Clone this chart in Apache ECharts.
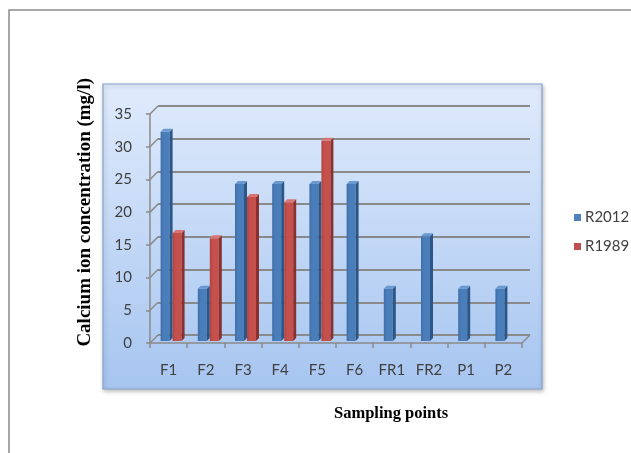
<!DOCTYPE html>
<html>
<head>
<meta charset="utf-8">
<script src="https://cdn.jsdelivr.net/npm/echarts@6/dist/echarts.min.js"></script>
<style>
html,body{margin:0;padding:0;background:#fff;}
#c{width:631px;height:453px;}
</style>
</head>
<body>
<div id="c"></div>
<script>
const categories = ['F1','F2','F3','F4','F5','F6','FR1','FR2','P1','P2'];
const r2012 = [32, 8, 24, 24, 24, 24, 8, 16, 8, 8];
const r1989 = [16.5, 15.7, 22, 21.2, 30.6, null, null, null, null, null];
const yTicks = [0, 5, 10, 15, 20, 25, 30, 35];

const chart = echarts.init(document.getElementById('c'), null, {renderer: 'canvas'});

function barRenderer(offset, face, faceDark, side, top) {
  return function (params, api) {
    const c = api.value(0), v = api.value(1);
    const p0 = api.coord([c, 0]);
    const p1 = api.coord([c, v]);
    const w = 9, d = 3;
    const x = p0[0] + offset;
    const yb = p0[1] - 2;
    const yt = p1[1] - 2;
    return {
      type: 'group',
      children: [
        {type: 'rect', shape: {x: x, y: yt, width: w, height: yb - yt},
         style: {fill: new echarts.graphic.LinearGradient(0, 0, 1, 0, [
           {offset: 0, color: faceDark}, {offset: 0.35, color: face}, {offset: 1, color: face}])}},
        {type: 'polygon', shape: {points: [[x + w, yt], [x + w + d, yt - d], [x + w + d, yb - d], [x + w, yb]]},
         style: {fill: side}},
        {type: 'polygon', shape: {points: [[x, yt], [x + d, yt - d], [x + w + d, yt - d], [x + w, yt]]},
         style: {fill: top}}
      ]
    };
  };
}

const blueData = [];
r2012.forEach((v, i) => { if (v !== null) blueData.push([i, v]); });
const redData = [];
r1989.forEach((v, i) => { if (v !== null) redData.push([i, v]); });

const option = {
  animation: false,
  textStyle: {fontFamily: 'Lato'},
  graphic: [
    {type: 'rect', z: -20, shape: {x: 9, y: 10, width: 700, height: 500},
     style: {fill: '#fff', stroke: '#8c8c8c', lineWidth: 1.5}},
    {type: 'rect', z: -10, shape: {x: 103, y: 84, width: 439, height: 305},
     style: {
       fill: new echarts.graphic.LinearGradient(0, 0, 0, 1, [
         {offset: 0, color: '#e0ebfc'}, {offset: 1, color: '#a6c5f0'}]),
       stroke: '#86a4cc', lineWidth: 1.2,
       shadowBlur: 4, shadowColor: 'rgba(0,0,0,0.25)', shadowOffsetX: 1, shadowOffsetY: 2
     }},
    {type: 'text', left: 76, top: 78, z: 10,
     style: {text: 'Calcium ion concentration (mg/l)', fill: '#000',
       font: 'bold 19px "Liberation Serif"'},
     rotation: Math.PI / 2, originX: 0, originY: 0},
    {type: 'text', z: 10, left: 334, top: 405,
     style: {text: 'Sampling points', fill: '#000', font: 'bold 16.5px "Liberation Serif"'}}
  ],
  legend: {
    orient: 'vertical', left: 569, top: 205,
    itemWidth: 7, itemHeight: 7, itemGap: 14, icon: 'rect',
    textStyle: {fontFamily: 'Lato', fontSize: 15, color: '#404040', padding: [0, 0, 0, -1]},
    data: ['R2012', 'R1989']
  },
  grid: [
    {left: 150, right: 109, top: 114, bottom: 110},
    {left: 158, right: 101, top: 106, bottom: 118}
  ],
  xAxis: [
    {type: 'category', gridIndex: 0, data: categories, boundaryGap: true,
     axisLine: {show: true, lineStyle: {color: '#8a8a8a', width: 1.5}},
     axisTick: {show: true, length: 5, alignWithLabel: false, lineStyle: {color: '#8a8a8a', width: 1.5}},
     axisLabel: {margin: 20, fontFamily: 'Lato', fontSize: 15, color: '#404040'}},
    {type: 'category', gridIndex: 1, data: categories, show: false}
  ],
  yAxis: [
    {type: 'value', gridIndex: 0, min: 0, max: 35, interval: 5,
     axisLine: {show: true, lineStyle: {color: '#8a8a8a', width: 1.5}},
     axisTick: {show: true, length: 4, lineStyle: {color: '#8a8a8a', width: 1.5}},
     splitLine: {show: false},
     axisLabel: {margin: 18, fontFamily: 'Lato', fontSize: 15, color: '#404040'}},
    {type: 'value', gridIndex: 1, min: 0, max: 35, interval: 5,
     axisLine: {show: false}, axisTick: {show: false}, axisLabel: {show: false},
     splitLine: {show: true, lineStyle: {color: '#8a8a8a', width: 1.8}}}
  ],
  series: [
    {type: 'custom', name: 'connectors', xAxisIndex: 0, yAxisIndex: 0, silent: true, z: 1,
     data: yTicks.map(v => [0, v]),
     renderItem: function (params, api) {
       const p = api.coord([0, api.value(1)]);
       const cw = api.size([1, 0])[0];
       const xl = p[0] - cw / 2;
       const children = [{type: 'line', shape: {x1: xl, y1: p[1], x2: xl + 8, y2: p[1] - 8},
         style: {stroke: '#8a8a8a', lineWidth: 1.5}}];
       if (params.dataIndex === 0) {
         const pr = api.coord([categories.length - 1, 0]);
         const xr = pr[0] + cw / 2;
         children.push({type: 'line', shape: {x1: xr, y1: pr[1], x2: xr + 8, y2: pr[1] - 8},
           style: {stroke: '#8a8a8a', lineWidth: 1.5}});
       }
       return {type: 'group', children: children};
     }},
    {type: 'custom', name: 'R2012', xAxisIndex: 0, yAxisIndex: 0, z: 3,
     itemStyle: {color: '#4f81bd'},
     data: blueData,
     renderItem: barRenderer(-8, '#4a7ebb', '#3f6ea8', '#2b5687', '#6a98d0')},
    {type: 'custom', name: 'R1989', xAxisIndex: 0, yAxisIndex: 0, z: 3,
     itemStyle: {color: '#c0504d'},
     data: redData,
     renderItem: barRenderer(4, '#c5504c', '#b04541', '#8a302e', '#d77572')}
  ]
};
chart.setOption(option);
</script>
</body>
</html>
